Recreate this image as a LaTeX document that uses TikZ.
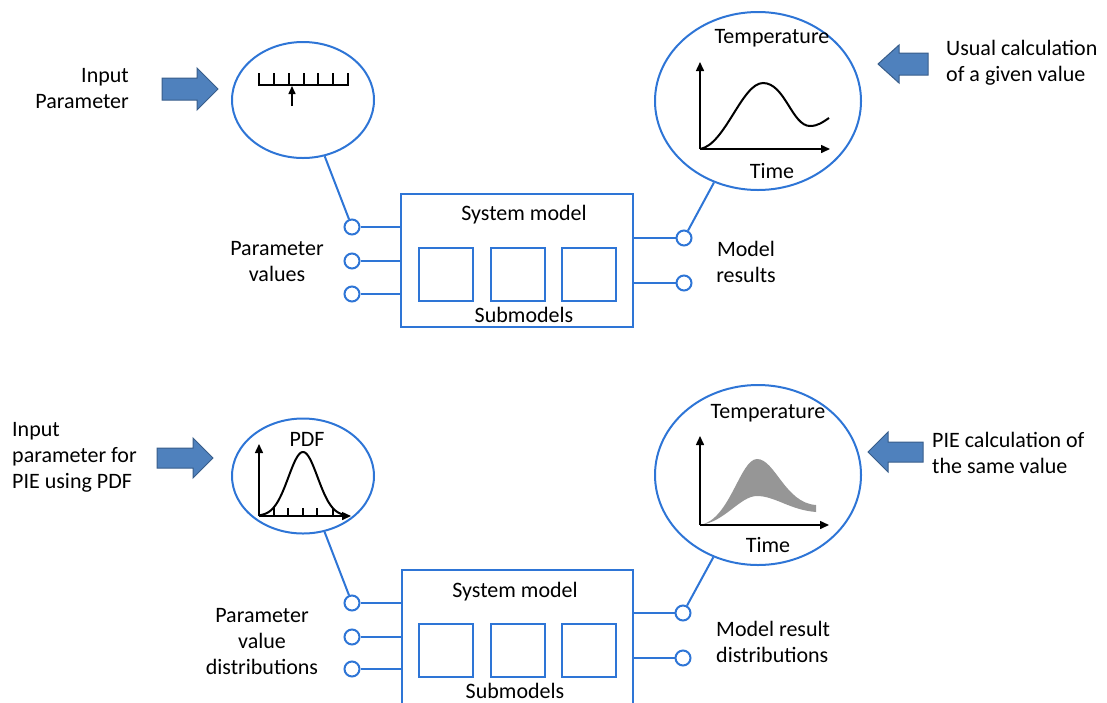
\documentclass[tikz,border=0pt]{standalone}
\usepackage{fontspec}
\setmainfont{Carlito}
\usetikzlibrary{arrows.meta,shapes.geometric}
\definecolor{lblue}{RGB}{46,117,214}
\definecolor{afill}{RGB}{79,129,189}
\definecolor{aborder}{RGB}{56,93,138}
\definecolor{band}{RGB}{150,150,150}
\begin{document}
\begin{tikzpicture}[x=1pt,y=-1pt,
  txt/.style={font=\fontsize{22}{26}\selectfont, inner sep=0pt},
  bubble/.style={draw=lblue, line width=2pt, ellipse, inner sep=0pt},
  port/.style={draw=lblue, line width=2pt, circle, minimum size=15pt, inner sep=0pt, fill=white},
  wire/.style={draw=lblue, line width=2pt},
  sysbox/.style={draw=lblue, line width=2pt, rectangle, inner sep=0pt},
  subbox/.style={draw=lblue, line width=2pt, minimum width=54pt, minimum height=53pt, inner sep=0pt},
  blockarrow/.style={fill=afill, draw=aborder, line width=1pt, line join=miter},
  axis/.style={line width=1.5pt, -{Triangle[length=9pt,width=8pt]}},
  curve/.style={line width=2pt}]
\useasboundingbox (0,0) rectangle (1107,702);
\clip (0,0) rectangle (1107,702);

% ---------------- TOP ----------------
\filldraw[blockarrow] (162,78) -- (197,78) -- (197,68) -- (218,89) -- (197,110) -- (197,100) -- (162,100) -- cycle;
\filldraw[blockarrow] (928,53) -- (899,53) -- (899,45) -- (878,64) -- (899,83) -- (899,75) -- (928,75) -- cycle;

\node[txt, align=right, anchor=east] (inp1) at (129,89) {Input\\Parameter};
\node[txt, align=left, anchor=west] (usual) at (946,63) {Usual calculation\\of a given value};

\node[bubble, minimum width=142pt, minimum height=116pt] (e1) at (303,100) {};
\node[bubble, minimum width=206pt, minimum height=178pt] (e2) at (758,101) {};

% ruler
\draw[line width=1.5pt] (259,73) -- (259,85) -- (348,85) -- (348,73);
\foreach \tx in {274,289,304,318,333} \draw[line width=1.5pt] (\tx,85) -- (\tx,73);
\draw[line width=1.5pt, -{Triangle[length=8pt,width=7pt]}] (292,106) -- (292,86);

% temperature plot
\draw[axis] (700,149) -- (700,62);
\draw[axis] (700,149) -- (830,149);
\draw[curve] (700,149) .. controls (725,145) and (742,83) .. (763,83) .. controls (785,83) and (792,126) .. (810,126) .. controls (818,126) and (823,122) .. (829,118);
\node[txt] (temp1) at (772,38) {Temperature};
\node[txt] (time1) at (772,171) {Time};

\node[sysbox, minimum width=232pt, minimum height=133pt] (sys1) at (517,260.5) {};
\node[txt] (sm1) at (524,215) {System model};
\node[txt] (sub1) at (524,315) {Submodels};
\node[subbox] (b11) at (446,274.5) {};
\node[subbox] (b12) at (517.5,274.5) {};
\node[subbox] (b13) at (589,274.5) {};

\node[port] (pl11) at (352,227) {};
\node[port] (pl12) at (352,261) {};
\node[port] (pl13) at (352,294) {};
\node[port] (pr11) at (684,238) {};
\node[port] (pr12) at (684,283) {};
\draw[wire] (pl11) -- (sys1.west |- pl11);
\draw[wire] (pl12) -- (sys1.west |- pl12);
\draw[wire] (pl13) -- (sys1.west |- pl13);
\draw[wire] (pr11) -- (sys1.east |- pr11);
\draw[wire] (pr12) -- (sys1.east |- pr12);
\draw[wire] (pl11) -- (e1);
\draw[wire] (pr11) -- (e2);

\node[txt, align=center] (pv1) at (277,262) {Parameter\\values};
\node[txt, align=center] (mr1) at (746,262) {Model\\results};

% ---------------- BOTTOM ----------------
\filldraw[blockarrow] (157,448) -- (193,448) -- (193,438) -- (213,458) -- (193,478) -- (193,468) -- (157,468) -- cycle;
\filldraw[blockarrow] (923,442) -- (888,442) -- (888,432) -- (868,452) -- (888,472) -- (888,462) -- (923,462) -- cycle;

\node[txt, align=left, anchor=west] (inp2) at (12,457) {Input\\parameter for\\PIE using PDF};
\node[txt, align=left, anchor=west] (pie) at (932,453) {PIE calculation of\\the same value};

\node[bubble, minimum width=142pt, minimum height=115pt] (e3) at (303,476) {};
\node[bubble, minimum width=206pt, minimum height=180pt] (e4) at (758,475) {};

% PDF plot
\draw[axis] (259,516) -- (259,444);
\draw[axis] (259,516) -- (351,516);
\foreach \tx in {274,288,303,317,333} \draw[line width=1.5pt] (\tx,516) -- (\tx,508);
\draw[curve] plot[domain=259:347, samples=70, smooth] (\x, {516-64*exp(0-((\x-303)*(\x-303))/426)});
\node[txt] (pdf) at (307,439) {PDF};

% band plot
\fill[band] (700,525) .. controls (730,520) and (740,459) .. (757,459) .. controls (775,459) and (785,503) .. (816,505) -- (816,512) .. controls (790,510) and (775,496) .. (757,496) .. controls (740,496) and (725,522) .. (700,525) -- cycle;
\draw[axis] (700,525) -- (700,436);
\draw[axis] (700,525) -- (829,525);
\node[txt] (temp2) at (768,413) {Temperature};
\node[txt] (time2) at (768,545) {Time};

\node[sysbox, minimum width=231pt, minimum height=140pt] (sys2) at (517.5,640) {};
\node[txt] (sm2) at (515,592) {System model};
\node[txt] (sub2) at (515,691) {Submodels};
\node[subbox] (b21) at (446,650) {};
\node[subbox] (b22) at (517.5,650) {};
\node[subbox] (b23) at (589,650) {};

\node[port] (pl21) at (352,603) {};
\node[port] (pl22) at (352,637) {};
\node[port] (pl23) at (352,669) {};
\node[port] (pr21) at (683,613) {};
\node[port] (pr22) at (683,658) {};
\draw[wire] (pl21) -- (sys2.west |- pl21);
\draw[wire] (pl22) -- (sys2.west |- pl22);
\draw[wire] (pl23) -- (sys2.west |- pl23);
\draw[wire] (pr21) -- (sys2.east |- pr21);
\draw[wire] (pr22) -- (sys2.east |- pr22);
\draw[wire] (pl21) -- (e3);
\draw[wire] (pr21) -- (e4);

\node[txt, align=center] (pv2) at (262,642) {Parameter\\value\\distributions};
\node[txt, align=left, anchor=west] (mr2) at (716,642) {Model result\\distributions};
\end{tikzpicture}
\end{document}
